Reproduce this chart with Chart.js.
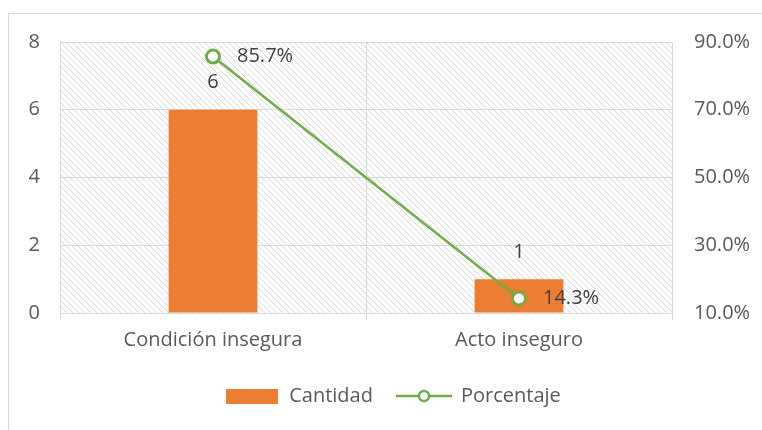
<!DOCTYPE html>
<html>
<head>
<meta charset="utf-8">
<script src="https://cdn.jsdelivr.net/npm/chart.js@4"></script>
<style>
  body { margin: 0; background: #fff; }
  #wrap { width: 762px; height: 430px; }
</style>
</head>
<body>
<div id="wrap"><canvas id="plot1" width="762" height="430"></canvas></div>
<script>
const categorias = ['Condición insegura', 'Acto inseguro'];
const cantidad = [6, 1];
const porcentaje = [85.7, 14.3];
const ticksIzq = [0, 2, 4, 6, 8];
const ticksDer = [10, 30, 50, 70, 90];

const naranja = '#ED7D31';
const verde = '#70AD47';
const gris = '#595959';
const fuente = '"Open Sans"';
const tam = 20;

// patron rayado del fondo
let patron = document.createElement('canvas');
patron.width = 6; patron.height = 6;
let pc = patron.getContext('2d');
pc.strokeStyle = '#d9d9d9';
pc.lineWidth = 1;
pc.beginPath();
pc.moveTo(0, 0); pc.lineTo(6, 6);
pc.moveTo(-1, 5); pc.lineTo(1, 7);
pc.moveTo(5, -1); pc.lineTo(7, 1);
pc.stroke();

// iconos de la leyenda
let iconoBarra = document.createElement('canvas');
iconoBarra.width = 52; iconoBarra.height = 15;
let ib = iconoBarra.getContext('2d');
ib.fillStyle = naranja;
ib.fillRect(0, 0, 52, 15);

let iconoLinea = document.createElement('canvas');
iconoLinea.width = 56; iconoLinea.height = 16;
let il = iconoLinea.getContext('2d');
il.strokeStyle = verde;
il.lineWidth = 2.5;
il.beginPath(); il.moveTo(0, 8); il.lineTo(56, 8); il.stroke();
il.fillStyle = '#fff';
il.beginPath(); il.arc(28, 8, 5, 0, Math.PI * 2); il.fill(); il.stroke();

const fondo = {
    id: 'fondo',
    beforeDraw(chart) {
        const c = chart.ctx;
        const a = chart.chartArea;
        c.save();
        c.strokeStyle = '#d9d9d9';
        c.lineWidth = 1;
        c.strokeRect(8.5, 13.5, 800, 500);
        c.fillStyle = c.createPattern(patron, 'repeat');
        c.fillRect(a.left, a.top, a.right - a.left, a.bottom - a.top);
        c.restore();
    }
};

const etiquetas = {
    id: 'etiquetas',
    afterDatasetsDraw(chart) {
        const c = chart.ctx;
        c.save();
        c.font = tam + 'px ' + fuente;
        c.fillStyle = '#404040';
        chart.getDatasetMeta(0).data.forEach((bar, i) => {
            c.textAlign = 'center';
            c.textBaseline = 'middle';
            c.fillText(String(cantidad[i]), bar.x, bar.y - 27);
        });
        chart.getDatasetMeta(1).data.forEach((p, i) => {
            c.textAlign = 'left';
            c.textBaseline = 'middle';
            c.fillText(porcentaje[i].toFixed(1) + '%', p.x + 24, p.y);
        });
        c.restore();
    }
};

let ctx = document.getElementById('plot1').getContext('2d');

let grafica1 = new Chart(ctx, {
    type: 'bar',
    data: {
        labels: categorias,
        datasets: [{
            label: 'Cantidad',
            data: cantidad,
            backgroundColor: naranja,
            barPercentage: 0.58,
            categoryPercentage: 0.5,
            yAxisID: 'y',
            order: 1
        }, {
            type: 'line',
            label: 'Porcentaje',
            data: porcentaje,
            borderColor: verde,
            borderWidth: 2.5,
            pointRadius: 6.5,
            pointBorderWidth: 3,
            pointBackgroundColor: '#fff',
            pointBorderColor: verde,
            yAxisID: 'y1',
            order: 0
        }]
    },
    options: {
        responsive: false,
        animation: false,
        layout: { padding: { top: 42, bottom: 14, left: 24, right: 0 } },
        plugins: {
            tooltip: { enabled: false },
            legend: {
                position: 'bottom',
                labels: {
                    usePointStyle: true,
                    pointStyleWidth: 54,
                    boxHeight: 16,
                    padding: 24,
                    color: gris,
                    font: { family: fuente, size: tam },
                    generateLabels(chart) {
                        let items = Chart.defaults.plugins.legend.labels.generateLabels(chart);
                        items.sort((a, b) => a.datasetIndex - b.datasetIndex);
                        items.forEach(it => {
                            it.pointStyle = it.datasetIndex == 0 ? iconoBarra : iconoLinea;
                        });
                        return items;
                    }
                }
            }
        },
        scales: {
            x: {
                offset: true,
                afterFit(scale) { scale.height = 49 },
                grid: { offset: true, color: '#d9d9d9', tickLength: 7 },
                border: { color: '#d9d9d9' },
                ticks: { color: gris, padding: 8, font: { family: fuente, size: tam } }
            },
            y: {
                min: 0,
                max: 8,
                afterFit(scale) { scale.width = 36 },
                afterBuildTicks(scale) { scale.ticks = ticksIzq.map(v => ({ value: v })) },
                grid: { color: '#d9d9d9', drawTicks: false },
                border: { display: false },
                ticks: { color: gris, padding: 20, font: { family: fuente, size: tam } }
            },
            y1: {
                position: 'right',
                min: 10,
                max: 90,
                afterFit(scale) { scale.width = 90 },
                afterBuildTicks(scale) { scale.ticks = ticksDer.map(v => ({ value: v })) },
                grid: { drawOnChartArea: false, drawTicks: false },
                border: { display: false },
                ticks: {
                    color: gris,
                    padding: 22,
                    font: { family: fuente, size: tam },
                    callback: v => v.toFixed(1) + '%'
                }
            }
        }
    },
    plugins: [fondo, etiquetas]
});
</script>
</body>
</html>
